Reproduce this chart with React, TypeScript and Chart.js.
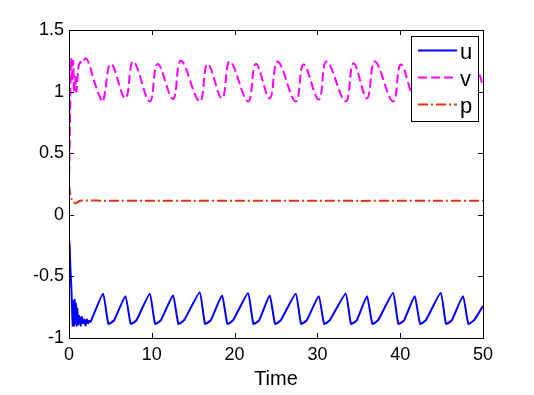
import React, { useEffect, useRef } from "react";
import { Chart, registerables } from "chart.js";

Chart.register(...registerables);

// ---- data ----
const seriesLabels = ["u", "v", "p"];
const seriesColors = ["#0000ff", "#ff00ff", "#d9360f"];
const xTicks = [0, 10, 20, 30, 40, 50];
const yTicks = [-1, -0.5, 0, 0.5, 1, 1.5];
const xTitle = "Time";

const uTime = [
  0, 0.08, 0.16, 0.3, 0.45, 0.52, 0.6, 0.68, 0.76, 0.84, 0.92, 1.0, 1.1, 1.25, 1.4, 1.55, 1.7, 1.85, 2.0, 2.15, 2.3, 2.45, 2.6,
  4.11, 4.76, 5.46,
  6.81, 7.46, 8.16,
  9.75, 10.4, 11.1,
  12.56, 13.21, 13.91,
  15.78, 16.43, 17.13,
  18.48, 19.13, 19.83,
  21.62, 22.27, 22.97,
  24.24, 24.89, 25.59,
  27.38, 28.03, 28.73,
  30.16, 30.81, 31.51,
  33.41, 34.06, 34.76,
  35.99, 36.64, 37.34,
  39.13, 39.78, 40.48,
  41.75, 42.4, 43.1,
  44.89, 45.54, 46.24,
  47.58, 48.23, 48.93,
  50,
];
const uValue = [
  -0.2, -0.26, -0.42, -0.62, -0.9, -0.7, -0.9, -0.69, -0.88, -0.72, -0.9, -0.76, -0.89, -0.82, -0.9, -0.83, -0.88, -0.85, -0.9, -0.85, -0.88, -0.86, -0.87,
  -0.64, -0.885, -0.855,
  -0.66, -0.885, -0.855,
  -0.64, -0.885, -0.855,
  -0.655, -0.885, -0.855,
  -0.63, -0.885, -0.855,
  -0.655, -0.885, -0.855,
  -0.636, -0.885, -0.855,
  -0.655, -0.885, -0.855,
  -0.64, -0.885, -0.855,
  -0.66, -0.885, -0.855,
  -0.64, -0.885, -0.855,
  -0.66, -0.885, -0.855,
  -0.635, -0.885, -0.855,
  -0.66, -0.885, -0.855,
  -0.635, -0.885, -0.855,
  -0.66, -0.885, -0.855,
  -0.74,
];

const vTime = [
  0, 0.12, 0.25, 0.38, 0.5, 0.62, 0.75, 0.88, 1.0, 1.15, 1.35, 1.6, 2.0, 2.4, 2.8, 3.3, 3.7,
  4.11, 5.06,
  6.81, 7.76,
  9.75, 10.7,
  12.56, 13.51,
  15.78, 16.73,
  18.48, 19.43,
  21.62, 22.57,
  24.24, 25.19,
  27.38, 28.33,
  30.16, 31.11,
  33.41, 34.36,
  35.99, 36.94,
  39.13, 40.08,
  41.75, 42.7,
  44.89, 45.84,
  47.58, 48.53,
  49.5, 50,
];
const vValue = [
  0.22, 0.75, 1.27, 1.08, 1.25, 0.99, 1.12, 1.0, 1.08, 1.2, 1.24, 1.23, 1.27, 1.23, 1.14, 1.03, 0.96,
  0.92, 1.225,
  0.945, 1.245,
  0.92, 1.225,
  0.94, 1.25,
  0.92, 1.225,
  0.945, 1.245,
  0.92, 1.225,
  0.945, 1.245,
  0.92, 1.22,
  0.935, 1.245,
  0.92, 1.23,
  0.945, 1.245,
  0.92, 1.22,
  0.945, 1.245,
  0.92, 1.225,
  0.945, 1.245,
  1.15, 1.04,
];

const pTime = [0, 0.15, 0.35, 0.6, 0.85, 1.2, 1.6, 5, 10, 15, 20, 25, 30, 35, 40, 45, 50];
const pValue = [0.24, 0.17, 0.12, 0.1, 0.095, 0.11, 0.116, 0.114, 0.115, 0.113, 0.115, 0.114, 0.115, 0.113, 0.115, 0.114, 0.115];

const FONT = "'Liberation Sans', Arial, Helvetica, sans-serif";

function toPoints(t: number[], v: number[]) {
  return t.map((x, i) => ({ x, y: v[i] }));
}

export default function App() {
  const ref = useRef<HTMLCanvasElement>(null);

  useEffect(() => {
    document.body.style.margin = "0";
    const canvas = ref.current;
    if (!canvas) return;
    const ctx = canvas.getContext("2d");
    if (!ctx) return;

    const framePlugin = {
      id: "matlabFrame",
      afterDatasetsDraw(chart: any) {
        const { ctx: c, chartArea: a, scales } = chart;
        const xs = scales.x;
        const ys = scales.y;
        c.save();
        c.strokeStyle = "#000";
        c.lineWidth = 1;
        c.setLineDash([]);
        c.strokeRect(a.left + 0.5, a.top + 0.5, a.right - a.left, a.bottom - a.top);
        const tl = 5;
        c.beginPath();
        xTicks.forEach((v) => {
          const px = Math.round(xs.getPixelForValue(v)) + 0.5;
          c.moveTo(px, a.bottom);
          c.lineTo(px, a.bottom - tl);
          c.moveTo(px, a.top);
          c.lineTo(px, a.top + tl);
        });
        yTicks.forEach((v) => {
          const py = Math.round(ys.getPixelForValue(v)) + 0.5;
          c.moveTo(a.left, py);
          c.lineTo(a.left + tl, py);
          c.moveTo(a.right, py);
          c.lineTo(a.right - tl, py);
        });
        c.stroke();
        c.restore();
      },
      afterDraw(chart: any) {
        const c = chart.ctx;
        const a = chart.chartArea;
        const boxL = a.right - 72;
        const boxT = a.top + 6;
        const boxW = 67;
        const boxH = 85;
        c.save();
        c.fillStyle = "#fff";
        c.fillRect(boxL, boxT, boxW, boxH);
        c.strokeStyle = "#000";
        c.lineWidth = 1;
        c.strokeRect(boxL + 0.5, boxT + 0.5, boxW, boxH);
        chart.data.datasets.forEach((ds: any, i: number) => {
          const rowY = boxT + 14.5 + i * 27;
          c.beginPath();
          c.strokeStyle = ds.borderColor;
          c.lineWidth = ds.borderWidth;
          c.setLineDash(ds.borderDash || []);
          c.moveTo(boxL + 7, rowY);
          c.lineTo(boxL + 46, rowY);
          c.stroke();
          c.setLineDash([]);
          c.fillStyle = "#000";
          c.font = `22px ${FONT}`;
          c.textAlign = "left";
          c.textBaseline = "alphabetic";
          c.fillText(ds.label, boxL + 49, rowY + 8.5);
        });
        c.restore();
      },
    };

    const chart = new Chart(ctx, {
      type: "line",
      data: {
        datasets: [
          {
            label: seriesLabels[0],
            data: toPoints(uTime, uValue),
            borderColor: seriesColors[0],
            borderWidth: 2,
            tension: 0.15,
            pointRadius: 0,
            fill: false,
          },
          {
            label: seriesLabels[1],
            data: toPoints(vTime, vValue),
            borderColor: seriesColors[1],
            borderWidth: 2,
            borderDash: [9, 4],
            tension: 0.4,
            pointRadius: 0,
            fill: false,
          },
          {
            label: seriesLabels[2],
            data: toPoints(pTime, pValue),
            borderColor: seriesColors[2],
            borderWidth: 2,
            borderDash: [10, 3, 2, 3],
            tension: 0.2,
            pointRadius: 0,
            fill: false,
          },
        ],
      },
      options: {
        animation: false,
        responsive: false,
        devicePixelRatio: 1,
        layout: { padding: { top: 30, right: 51, left: 0, bottom: 0 } },
        plugins: {
          legend: { display: false },
          tooltip: { enabled: false },
          title: { display: false },
        },
        elements: { point: { radius: 0 } },
        scales: {
          x: {
            type: "linear",
            min: 0,
            max: 50,
            afterFit: (s: any) => {
              s.height = 57;
            },
            afterBuildTicks: (s: any) => {
              s.ticks = xTicks.map((v) => ({ value: v }));
            },
            grid: { display: false, drawTicks: false },
            border: { display: false },
            ticks: {
              padding: 6,
              color: "#000",
              font: { family: FONT, size: 18 },
              maxRotation: 0,
              autoSkip: false,
              callback: (v: any) => String(v),
            },
            title: {
              display: true,
              text: xTitle,
              color: "#000",
              font: { family: FONT, size: 20 },
              padding: { top: 0, bottom: 4 },
            },
          },
          y: {
            type: "linear",
            min: -1,
            max: 1.5,
            afterFit: (s: any) => {
              s.width = 69;
            },
            afterBuildTicks: (s: any) => {
              s.ticks = yTicks.map((v) => ({ value: v }));
            },
            grid: { display: false, drawTicks: false },
            border: { display: false },
            ticks: {
              padding: 5,
              color: "#000",
              font: { family: FONT, size: 18 },
              autoSkip: false,
              callback: (v: any) => String(v),
            },
          },
        },
      },
      plugins: [framePlugin],
    });

    return () => chart.destroy();
  }, []);

  return (
    <div style={{ width: 534, height: 395, background: "#fff" }}>
      <canvas ref={ref} width={534} height={395} style={{ display: "block" }} />
    </div>
  );
}
